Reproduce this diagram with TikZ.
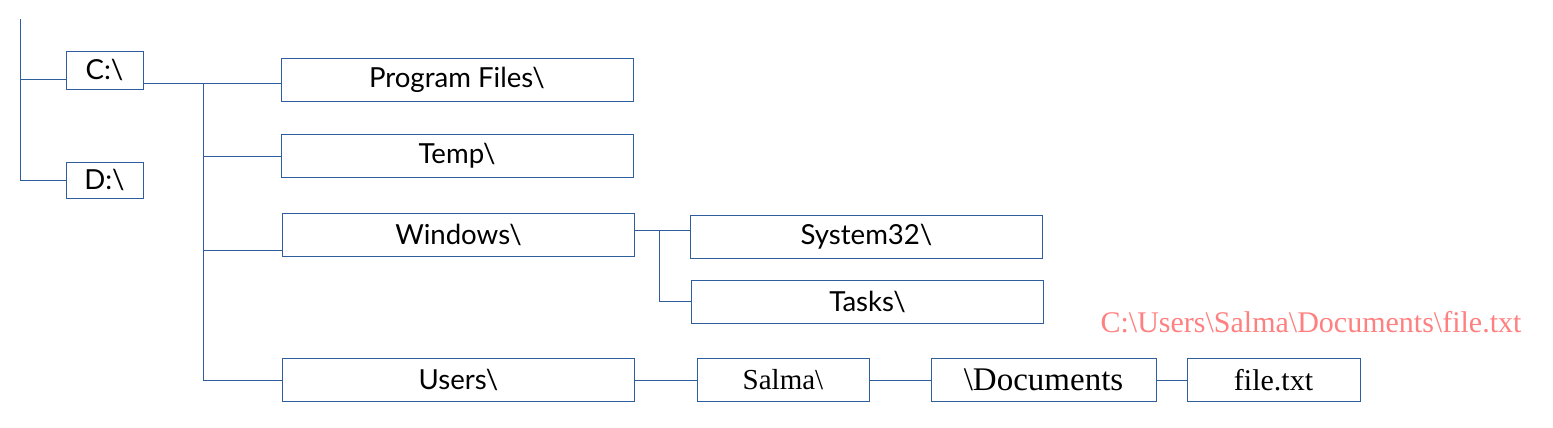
\documentclass[tikz,border=0pt]{standalone}
\usepackage{fontspec}
\setmainfont{Lato}
\newfontfamily\pathfont{Liberation Serif}
\usepackage{tikz}
\definecolor{lineblue}{RGB}{46,94,158}
\definecolor{pathred}{RGB}{255,128,128}
\tikzstyle{folder} = [rectangle, draw=lineblue, line width=0.5pt, inner sep=0pt,
    minimum width=176pt, minimum height=21.5pt, font=\fontsize{13.8}{16}\selectfont]
\tikzstyle{drive} = [folder, minimum width=38.5pt, minimum height=19pt]
\tikzstyle{leaf} = [folder, minimum width=86pt, font=\pathfont\fontsize{15}{17}\selectfont]
\tikzstyle{link} = [draw=lineblue, line width=0.5pt]

\begin{document}
\begin{tikzpicture}[x=0.5pt, y=-0.5pt]
	\useasboundingbox (0,0) rectangle (1553,428);
	% Place nodes
	\node [drive] at (104.5,70) (c) {C:\textbackslash};
	\node [drive, minimum height=18pt] at (104.5,180) (d) {D:\textbackslash};

	\node [folder] at (457,79.5) (pf) {Program Files\textbackslash};
	\node [folder] at (457,156) (temp) {Temp\textbackslash};
	\node [folder] at (458.5,234.5) (win) {Windows\textbackslash};
	\node [folder] at (458.5,380) (users) {Users\textbackslash};

	\node [folder] at (866.5,236.5) (sys) {System32\textbackslash};
	\node [folder] at (867.5,301.5) (tasks) {Tasks\textbackslash};

	\node [leaf, font=\pathfont\fontsize{14.5}{16}\selectfont] at (783,380) (salma) {Salma\textbackslash};
	\node [leaf, minimum width=112.5pt, font=\pathfont\fontsize{16.5}{18}\selectfont] at (1043.5,380) (docs) {\textbackslash Documents};
	\node [leaf, minimum width=86.5pt] at (1273.5,380) (file) {file.txt};

	\node [text=pathred, font=\pathfont\fontsize{15}{17}\selectfont] at (1311,322) (path)
		{C:\textbackslash Users\textbackslash Salma\textbackslash Documents\textbackslash file.txt};

	% junctions
	\coordinate (top) at (20,19);
	\coordinate (cj) at (203,83);
	\coordinate (wj) at (659.5,230);

	\draw[link] (top) |- (d.west);
	\draw[link] (top |- c.west) ++(0,9) -- ([yshift=-4.5pt]c.west);

	\draw[link] (c.east |- cj) -- (pf.west |- cj);
	\draw[link] (cj) |- (temp.west);
	\draw[link] (cj) |- ([yshift=-7.75pt]win.west);
	\draw[link] (cj) |- (users.west);

	\draw[link] (win.east |- wj) -- (sys.west |- wj);
	\draw[link] (wj) |- (tasks.west);

	\draw[link] (users.east) -- (salma.west);
	\draw[link] (salma.east) -- (docs.west);
	\draw[link] (docs.east) -- (file.west);
\end{tikzpicture}
\end{document}
